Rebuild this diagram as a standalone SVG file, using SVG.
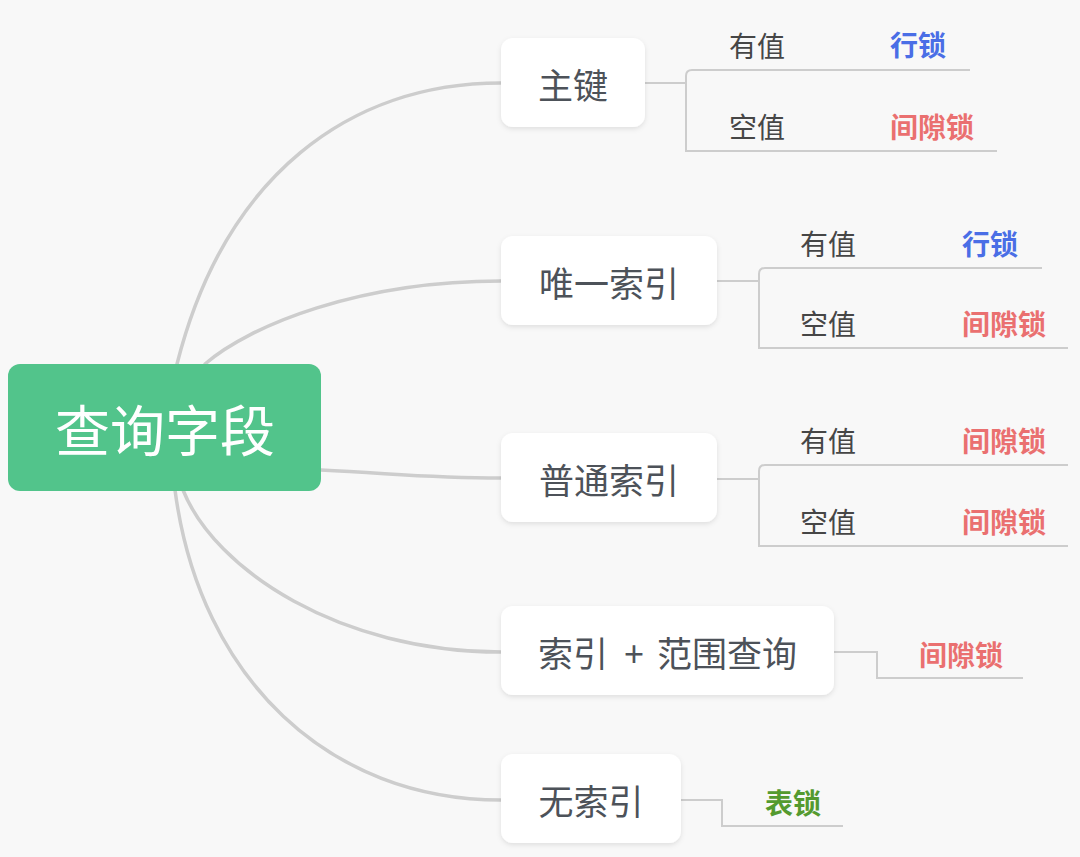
<svg xmlns="http://www.w3.org/2000/svg" width="1080" height="857" viewBox="0 0 1080 857">
<defs>
<filter id="sh" x="-10%" y="-10%" width="120%" height="130%">
<feDropShadow dx="0" dy="2" stdDeviation="2.5" flood-color="#000" flood-opacity="0.10"/>
</filter>
<style>
.bg{fill:#f8f8f8}
.main{fill:none;stroke:#cdcdcd;stroke-width:3.5;stroke-linecap:round}
.sub{fill:none;stroke:#cdcdcd;stroke-width:2}
.node rect{fill:#ffffff;filter:url(#sh)}
.t{font-family:"Noto Sans CJK SC","Noto Sans",sans-serif}
.nt{font-size:35px;fill:#4d5259;text-anchor:middle}
.st{font-size:28px;fill:#464646}
.blue{font-size:28px;fill:#4a6ee6;font-weight:bold}
.red{font-size:28px;fill:#ea7070;font-weight:bold}
.green{font-size:28px;fill:#549a2f;font-weight:bold}
</style>
</defs>
<rect class="bg" x="0" y="0" width="1080" height="857"/>
<g id="connectors">
<path class="main" d="M177,364 C225,175 350,83 501,83"/>
<path class="main" d="M205,364 C250,325 360,281 501,281"/>
<path class="main" d="M321,470 C400,474 430,478 501,478"/>
<path class="main" d="M183,490 C215,570 340,652 501,652"/>
<path class="main" d="M175,490 C200,680 330,800 501,800"/>
<path class="sub" d="M645,83 H686 M970,70 H692 Q686,70 686,76 V151 H997"/>
<path class="sub" d="M717,281 H759 M1042,268 H765 Q759,268 759,274 V348 H1068"/>
<path class="sub" d="M717,479 H759 M1068,465 H765 Q759,465 759,471 V546 H1068"/>
<path class="sub" d="M834,652 H877 V678 H1023"/>
<path class="sub" d="M681,800 H722 V826 H843"/>
</g>
<g id="root">
<rect x="8" y="364" width="313" height="127" rx="12" fill="#52c48b"/>
<text class="t" x="165" y="451" font-size="55" fill="#ffffff" text-anchor="middle">查询字段</text>
</g>
<g id="n-pk" class="node">
<rect x="501" y="38" width="144" height="89" rx="12"/>
<text class="t nt" x="573" y="99">主键</text>
</g>
<g id="n-pk-sub">
<text class="t st" x="729" y="57">有值</text>
<text class="t blue" x="890" y="56">行锁</text>
<text class="t st" x="729" y="138">空值</text>
<text class="t red" x="890" y="138">间隙锁</text>
</g>
<g id="n-uniq" class="node">
<rect x="501" y="236" width="216" height="89" rx="12"/>
<text class="t nt" x="609" y="297">唯一索引</text>
</g>
<g id="n-uniq-sub">
<text class="t st" x="800" y="255">有值</text>
<text class="t blue" x="962" y="255">行锁</text>
<text class="t st" x="800" y="335">空值</text>
<text class="t red" x="962" y="335">间隙锁</text>
</g>
<g id="n-normal" class="node">
<rect x="501" y="433" width="216" height="89" rx="12"/>
<text class="t nt" x="609" y="494">普通索引</text>
</g>
<g id="n-normal-sub">
<text class="t st" x="800" y="452">有值</text>
<text class="t red" x="962" y="452">间隙锁</text>
<text class="t st" x="800" y="533">空值</text>
<text class="t red" x="962" y="533">间隙锁</text>
</g>
<g id="n-range" class="node">
<rect x="501" y="606" width="333" height="89" rx="12"/>
<text class="t nt" y="667"><tspan x="573">索引</tspan><tspan x="634">+</tspan><tspan x="727">范围查询</tspan></text>
</g>
<g id="n-range-sub">
<text class="t red" x="919" y="666">间隙锁</text>
</g>
<g id="n-none" class="node">
<rect x="501" y="754" width="180" height="89" rx="12"/>
<text class="t nt" x="591" y="815">无索引</text>
</g>
<g id="n-none-sub">
<text class="t green" x="765" y="814">表锁</text>
</g>
</svg>
